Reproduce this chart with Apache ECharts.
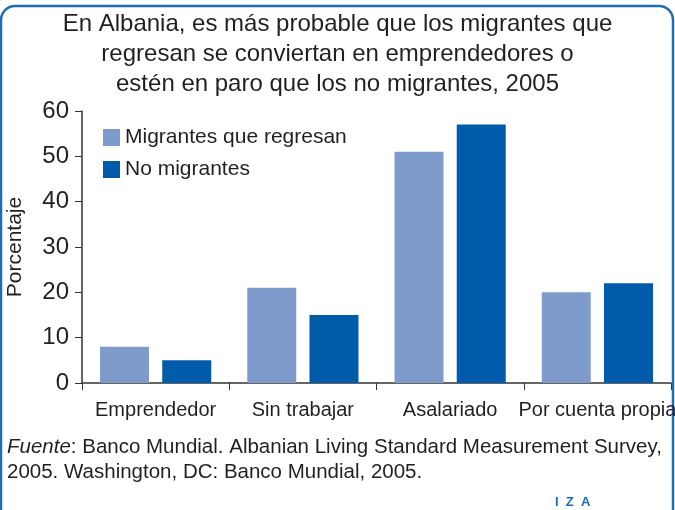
<!DOCTYPE html>
<html>
<head>
<meta charset="utf-8">
<script src="https://cdn.jsdelivr.net/npm/echarts@6/dist/echarts.min.js"></script>
<style>
  html, body { margin: 0; padding: 0; background: #fff; }
  #chart { width: 675px; height: 510px; }
</style>
</head>
<body>
<div id="chart"></div>
<script>
const categories = ['Emprendedor', 'Sin trabajar', 'Asalariado', 'Por cuenta propia']
const returnMigrants = [8, 21, 51, 20]
const nonMigrants = [5, 15, 57, 22]
const seriesNames = ['Migrantes que regresan', 'No migrantes']

const font = '"Liberation Sans", Arial, sans-serif'
const textColor = '#231f20'

const myChart = echarts.init(document.getElementById('chart'))

const option = {
  animation: false,
  textStyle: { fontFamily: font, color: textColor },
  title: {
    text: 'En Albania, es más probable que los migrantes que\nregresan se conviertan en emprendedores o\nestén en paro que los no migrantes, 2005',
    left: 'center',
    top: 4,
    textStyle: { fontFamily: font, fontSize: 24, lineHeight: 30, fontWeight: 'normal', color: textColor }
  },
  legend: {
    orient: 'vertical',
    left: 98,
    top: 122,
    icon: 'rect',
    itemWidth: 17,
    itemHeight: 17,
    itemGap: 11,
    textStyle: { fontFamily: font, fontSize: 21, color: textColor },
    data: seriesNames
  },
  grid: { left: 82, right: 4, top: 111, bottom: 127, outerBoundsMode: 'none', containLabel: false },
  xAxis: {
    type: 'category',
    data: categories,
    axisLine: { lineStyle: { color: '#333', width: 1.5 } },
    axisTick: { show: true, length: 7, lineStyle: { color: '#333' } },
    axisLabel: { fontFamily: font, fontSize: 20, color: textColor, margin: 17, interval: 0, hideOverlap: false }
  },
  yAxis: {
    type: 'value',
    min: 0,
    max: 60,
    interval: 10,
    name: 'Porcentaje',
    nameLocation: 'middle',
    nameRotate: 90,
    nameGap: 56,
    nameTextStyle: { fontFamily: font, fontSize: 21, color: textColor },
    axisLine: { show: true, lineStyle: { color: '#333', width: 1.5 } },
    axisTick: { show: true, length: 7, lineStyle: { color: '#333' } },
    splitLine: { show: false },
    axisLabel: { fontFamily: font, fontSize: 24, color: textColor, margin: 13 }
  },
  series: [
    {
      name: seriesNames[0],
      type: 'bar',
      data: returnMigrants,
      barWidth: 49,
      barGap: '27%',
      itemStyle: { color: '#7f9bcc' }
    },
    {
      name: seriesNames[1],
      type: 'bar',
      data: nonMigrants,
      barWidth: 49,
      barGap: '27%',
      itemStyle: { color: '#005baa' }
    }
  ],
  graphic: [
    {
      type: 'rect',
      shape: { x: 1, y: 6, width: 672, height: 560, r: 14 },
      style: { fill: 'none', stroke: '#1f6db8', lineWidth: 2.5 },
      silent: true
    },
    {
      type: 'text',
      left: 7,
      top: 435,
      style: {
        text: '{i|Fuente}: Banco Mundial. Albanian Living Standard Measurement Survey,\n2005. Washington, DC: Banco Mundial, 2005.',
        font: '20.5px ' + font,
        fill: textColor,
        lineHeight: 25,
        rich: { i: { fontStyle: 'italic', fontSize: 20.5, fontFamily: font, fill: textColor } }
      }
    },
    {
      type: 'text',
      left: 555,
      top: 496,
      style: {
        text: 'I  Z  A',
        font: 'bold 13px ' + font,
        fill: '#1f6db8'
      }
    }
  ]
}
option && myChart.setOption(option)
</script>
</body>
</html>
